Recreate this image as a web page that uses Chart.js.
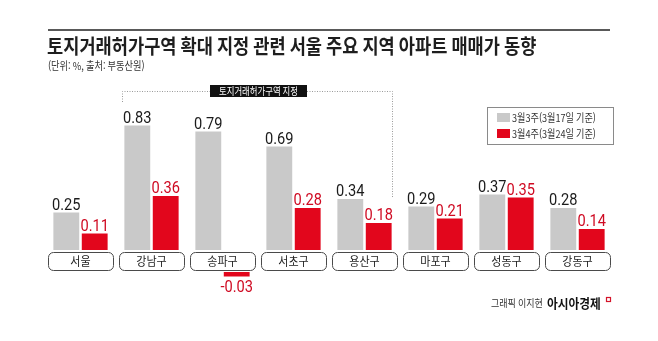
<!DOCTYPE html>
<html lang="ko">
<head>
<meta charset="utf-8">
<title>토지거래허가구역 확대 지정 관련 서울 주요 지역 아파트 매매가 동향</title>
<script src="https://cdn.jsdelivr.net/npm/chart.js@4.4.1/dist/chart.umd.min.js"></script>
<style>
  html, body { margin: 0; padding: 0; background: #fff; }
  #wrap { width: 658px; height: 341px; }
</style>
</head>
<body>
<div id="wrap"><canvas id="chart" width="658" height="341"></canvas></div>
<script>
// weekly apartment price change, %
const districts = ['서울', '강남구', '송파구', '서초구', '용산구', '마포구', '성동구', '강동구'];
const week3 = [0.25, 0.83, 0.79, 0.69, 0.34, 0.29, 0.37, 0.28];
const week4 = [0.11, 0.36, -0.03, 0.28, 0.18, 0.21, 0.35, 0.14];
const seriesLabels = ['3월3주(3월17일 기준)', '3월4주(3월24일 기준)'];
const seriesColors = ['#c9c9c9', '#e2061c'];
const valueColors = ['#1b1b1b', '#cf0a22'];

const titleText = '토지거래허가구역 확대 지정 관련 서울 주요 지역 아파트 매매가 동향';
const subtitleText = '(단위: %, 출처: 부동산원)';
const zoneText = '토지거래허가구역 지정';
const creditText = '그래픽 이지현';
const brandText = '아시아경제';

const KR = '"Noto Sans CJK KR", "Noto Sans", sans-serif';
const NUM = 'Roboto, "Liberation Sans", sans-serif';
const BOX_GAP = 22; // negative bars hang below the district boxes

function squeeze(ctx, text, x, y, sx) {
  ctx.save();
  ctx.translate(x, y);
  ctx.scale(sx, 1);
  ctx.fillText(text, 0, 0);
  ctx.restore();
}

function roundRect(ctx, x, y, w, h, r) {
  ctx.beginPath();
  ctx.moveTo(x + r, y);
  ctx.arcTo(x + w, y, x + w, y + h, r);
  ctx.arcTo(x + w, y + h, x, y + h, r);
  ctx.arcTo(x, y + h, x, y, r);
  ctx.arcTo(x, y, x + w, y, r);
  ctx.closePath();
}

// push bars below zero down past the label boxes
const dropNegatives = {
  id: 'dropNegatives',
  afterDatasetsUpdate(chart) {
    chart.data.datasets.forEach((ds, di) => {
      chart.getDatasetMeta(di).data.forEach((bar, i) => {
        if (ds.data[i] < 0) {
          bar.y += BOX_GAP;
          bar.base += BOX_GAP;
        }
      });
    });
  }
};

const decorations = {
  id: 'decorations',
  beforeDraw(chart) {
    const ctx = chart.ctx;
    ctx.save();
    // rule + headings
    ctx.strokeStyle = '#222';
    ctx.lineWidth = 1.5;
    ctx.beginPath();
    ctx.moveTo(48, 30);
    ctx.lineTo(610, 30);
    ctx.stroke();

    ctx.fillStyle = '#1e1e1e';
    ctx.textAlign = 'left';
    ctx.textBaseline = 'alphabetic';
    ctx.font = 'bold 20px ' + KR;
    squeeze(ctx, titleText, 47, 54, 0.88);
    ctx.font = '11px ' + KR;
    ctx.fillStyle = '#333';
    squeeze(ctx, subtitleText, 48, 70, 0.84);

    // legend
    ctx.strokeStyle = '#8a8a8a';
    ctx.lineWidth = 1;
    ctx.strokeRect(487.5, 107.5, 126, 37);
    chart.data.datasets.forEach((ds, i) => {
      const y = 113 + i * 16;
      ctx.fillStyle = ds.backgroundColor;
      ctx.fillRect(497, y, 13, 9);
      ctx.fillStyle = '#333';
      ctx.font = '11px ' + KR;
      squeeze(ctx, ds.label, 512, y + 9, 0.83);
    });

    // land-permit zone bracket
    const gray = chart.getDatasetMeta(0).data;
    const red = chart.getDatasetMeta(1).data;
    const x0 = Math.round(gray[1].x - gray[1].width / 2) - 1.5;
    const x1 = Math.round(red[4].x + red[4].width / 2) + 0.5;
    ctx.strokeStyle = '#9a9a9a';
    ctx.setLineDash([1, 1.5]);
    ctx.beginPath();
    ctx.moveTo(x0, 102);
    ctx.lineTo(x0, 91.5);
    ctx.lineTo(x1, 91.5);
    ctx.lineTo(x1, 197);
    ctx.stroke();
    ctx.setLineDash([]);
    ctx.fillStyle = '#111';
    ctx.fillRect(210, 85, 97, 12);
    ctx.fillStyle = '#fff';
    ctx.font = '10px ' + KR;
    ctx.textAlign = 'center';
    squeeze(ctx, zoneText, 258.5, 95, 0.84);

    // credit line
    ctx.textAlign = 'left';
    ctx.fillStyle = '#333';
    ctx.font = '10.5px ' + KR;
    squeeze(ctx, creditText, 491, 307, 0.86);
    ctx.fillStyle = '#111';
    ctx.font = 'bold 13px ' + KR;
    squeeze(ctx, brandText, 547, 308, 0.9);
    ctx.strokeStyle = '#d4142a';
    ctx.lineWidth = 1.2;
    ctx.strokeRect(606.5, 297.5, 4, 4);
    ctx.restore();
  },
  afterDatasetsDraw(chart) {
    const ctx = chart.ctx;
    const xs = chart.scales.x;
    const zero = chart.scales.y.getPixelForValue(0);
    ctx.save();
    // district boxes sit on the zero line
    const w = xs.width / districts.length - 6;
    districts.forEach((name, i) => {
      const cx = xs.getPixelForValue(i);
      roundRect(ctx, cx - w / 2 + 0.5, zero + 2.5, w, 18, 5);
      ctx.fillStyle = '#fff';
      ctx.fill();
      ctx.strokeStyle = '#4a4a4a';
      ctx.lineWidth = 1;
      ctx.stroke();
      ctx.fillStyle = '#222';
      ctx.font = '12px ' + KR;
      ctx.textAlign = 'center';
      ctx.textBaseline = 'middle';
      squeeze(ctx, name, cx, zero + 11.5, 0.92);
    });

    // value labels
    ctx.textAlign = 'center';
    ctx.textBaseline = 'alphabetic';
    ctx.font = '17px ' + NUM;
    chart.data.datasets.forEach((ds, di) => {
      ctx.fillStyle = valueColors[di];
      chart.getDatasetMeta(di).data.forEach((bar, i) => {
        const v = ds.data[i];
        const y = v < 0 ? bar.y + 15 : bar.y - 3;
        squeeze(ctx, v.toFixed(2), bar.x, y, 0.86);
      });
    });
    ctx.restore();
  }
};

new Chart(document.getElementById('chart'), {
  type: 'bar',
  data: {
    labels: districts,
    datasets: [
      { label: seriesLabels[0], data: week3, backgroundColor: seriesColors[0] },
      { label: seriesLabels[1], data: week4, backgroundColor: seriesColors[1] }
    ]
  },
  options: {
    responsive: false,
    animation: false,
    events: [],
    layout: { padding: { left: 45, right: 45, top: 100, bottom: 46 } },
    datasets: { bar: { categoryPercentage: 0.8, barPercentage: 0.91 } },
    scales: {
      x: { display: false },
      y: { display: false, min: -0.3, max: 1.0 }
    },
    plugins: {
      legend: { display: false },
      tooltip: { enabled: false }
    }
  },
  plugins: [dropNegatives, decorations]
});
</script>
</body>
</html>
